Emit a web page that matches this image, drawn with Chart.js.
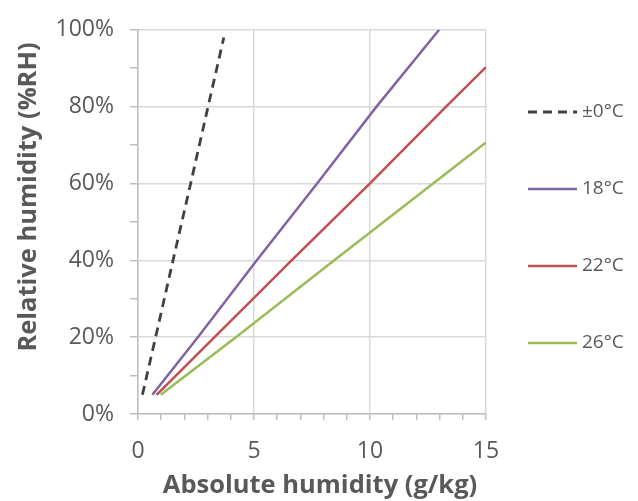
<!DOCTYPE html>
<html>
<head>
<meta charset="utf-8">
<script src="https://cdn.jsdelivr.net/npm/chart.js@4"></script>
<style>
  html, body { margin: 0; padding: 0; background: #fff; }
  #wrap { width: 638px; height: 501px; }
</style>
</head>
<body>
<div id="wrap"><canvas id="humChart" width="638" height="501"></canvas></div>
<script>
// series labels
const seriesNames = ["\u00b10\u00b0C", "18\u00b0C", "22\u00b0C", "26\u00b0C"];

// absolute humidity (g/kg), with matching RH (%)
const absZero = [0.19, 0.76, 1.51, 2.27, 3.02, 3.70];
const rhZero  = [5, 20, 40, 60, 80, 98];

const abs18 = [0.62, 2.58, 5.12, 7.72, 10.28, 12.98];
const rh18  = [5, 20, 40, 60, 80, 100];

const abs22 = [0.80, 3.30, 6.62, 10.0, 13.28, 15];
const rh22  = [5, 20, 40, 60, 80, 90.3];

const abs26 = [0.98, 4.22, 8.46, 12.72, 15];
const rh26  = [5, 20, 40, 60, 70.7];

// axis ticks
const xTicks = [0, 5, 10, 15];
const yTicks = [0, 20, 40, 60, 80, 100];

const textColor = "#595959";
const fontFam = "'Open Sans', Lato, sans-serif";

function pts(xs, ys) {
    return xs.map((x, i) => ({ x: x, y: ys[i] }));
}

// legend + axis titles drawn by hand so they sit where the original has them
const extras = {
    id: "extras",
    afterDraw(chart) {
        const c = chart.ctx;
        c.save();
        c.fillStyle = textColor;
        c.font = "bold 25.5px " + fontFam;
        c.textAlign = "center";
        c.textBaseline = "middle";
        c.fillText("Absolute humidity (g/kg)", 320, 486);

        c.translate(29, 197);
        c.rotate(-Math.PI / 2);
        c.fillText("Relative humidity (%RH)", 0, 0);
        c.restore();

        c.save();
        c.font = "19px " + fontFam;
        c.textBaseline = "middle";
        c.textAlign = "left";
        chart.data.datasets.forEach((ds, i) => {
            const y = 112 + i * 77;
            c.beginPath();
            c.strokeStyle = ds.borderColor;
            c.lineWidth = ds.borderWidth;
            c.setLineDash(ds.borderDash || []);
            c.moveTo(528, y);
            c.lineTo(577, y);
            c.stroke();
            c.fillStyle = textColor;
            c.fillText(ds.label, 582, y);
        });
        c.restore();
    }
};

new Chart(document.getElementById("humChart"), {
    type: "scatter",
    data: {
        datasets: [
            { label: seriesNames[0], data: pts(absZero, rhZero), borderColor: "#404040", borderWidth: 2.8, borderDash: [9, 6] },
            { label: seriesNames[1], data: pts(abs18, rh18), borderColor: "#8064a2", borderWidth: 2.5 },
            { label: seriesNames[2], data: pts(abs22, rh22), borderColor: "#c0504d", borderWidth: 2.5 },
            { label: seriesNames[3], data: pts(abs26, rh26), borderColor: "#9bbb59", borderWidth: 2.5 }
        ].map(d => Object.assign(d, { showLine: true, pointRadius: 0, fill: false, tension: 0 }))
    },
    plugins: [extras],
    options: {
        responsive: false,
        animation: false,
        layout: { autoPadding: false, padding: { left: 0, top: 22, right: 152, bottom: 0 } },
        plugins: { legend: { display: false }, tooltip: { enabled: false } },
        scales: {
            x: {
                type: "linear",
                min: 0, max: 15,
                afterFit(s) { s.height = 87; },
                ticks: {
                    stepSize: 1,
                    color: textColor,
                    font: { family: fontFam, size: 23 },
                    padding: 18,
                    maxRotation: 0,
                    autoSkip: false,
                    callback: v => xTicks.includes(v) ? String(v) : ""
                },
                grid: {
                    color: ctx => (ctx.tick && xTicks.includes(ctx.tick.value)) ? "#d9d9d9" : "rgba(0,0,0,0)",
                    tickColor: "#bfbfbf",
                    tickLength: 6,
                    lineWidth: 1.5
                },
                border: { color: "#bfbfbf", width: 1.5 }
            },
            y: {
                min: 0, max: 100,
                afterFit(s) { s.width = 138; },
                ticks: {
                    stepSize: 10,
                    color: textColor,
                    font: { family: fontFam, size: 23 },
                    padding: 16,
                    autoSkip: false,
                    callback: v => yTicks.includes(v) ? v + "%" : ""
                },
                grid: {
                    color: ctx => (ctx.tick && yTicks.includes(ctx.tick.value)) ? "#d9d9d9" : "rgba(0,0,0,0)",
                    tickColor: "#bfbfbf",
                    tickLength: 8,
                    lineWidth: 1.5
                },
                border: { color: "#bfbfbf", width: 1.5 }
            }
        }
    }
});
</script>
</body>
</html>
